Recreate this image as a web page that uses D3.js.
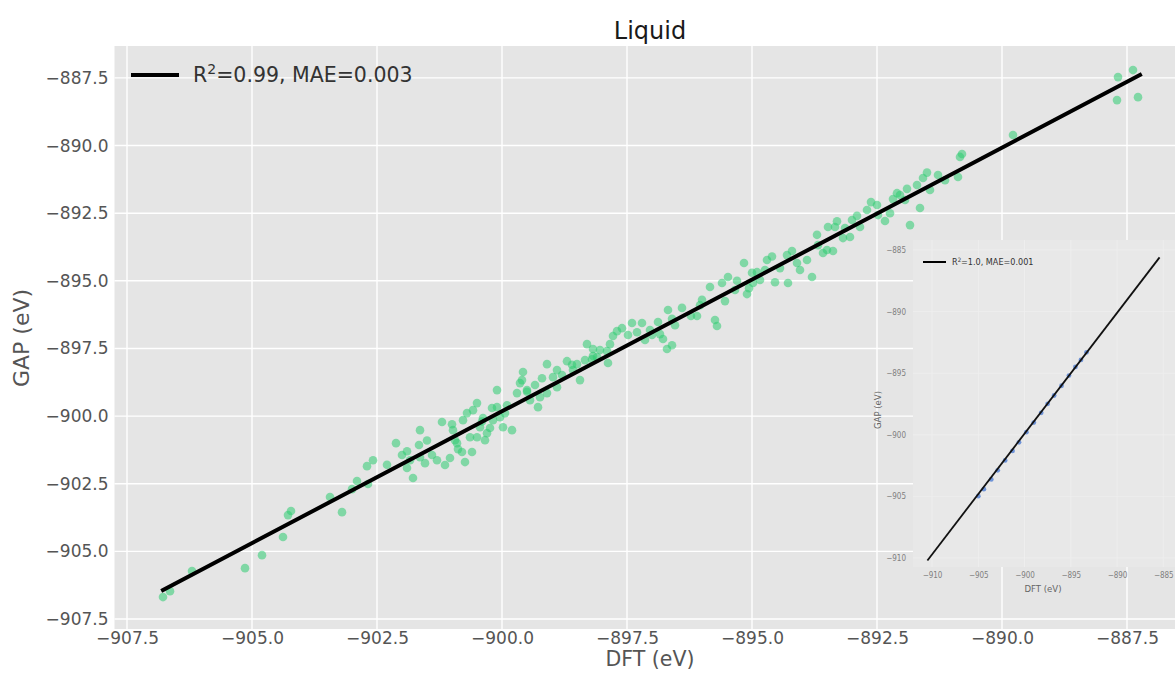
<!DOCTYPE html>
<html>
<head>
<meta charset="utf-8">
<script src="https://cdn.jsdelivr.net/npm/d3@7"></script>
<style>
  html, body { margin: 0; padding: 0; background: #ffffff; }
  svg { display: block; }
</style>
</head>
<body>
<svg id="chart" width="1175" height="675"></svg>
<script>
// ---------------- data ----------------
const title = "Liquid";
const xLabel = "DFT (eV)";
const yLabel = "GAP (eV)";
const xTicks = [-907.5, -905.0, -902.5, -900.0, -897.5, -895.0, -892.5, -890.0, -887.5];
const yTicks = [-907.5, -905.0, -902.5, -900.0, -897.5, -895.0, -892.5, -890.0, -887.5];

// DFT energies (x) and GAP energies (y) of the liquid configurations
const dft = [
  -906.78,-906.64,-906.20,-905.14,-904.80,-904.38,-904.28,-904.22,-903.44,-903.20,
  -902.90,-902.70,-902.58,-902.68,-902.12,-901.90,-901.78,-901.64,-901.66,-901.64,
  -901.30,-901.20,-901.04,-900.98,-900.94,-900.88,-900.80,-900.78,-900.70,-900.50,
  -900.58,-900.64,-900.50,-900.44,-900.38,-900.30,-900.18,-900.04,-899.98,-899.80,
  -900.10,-900.10,-899.70,-899.64,-899.58,-899.60,-899.50,-899.28,-899.24,-899.10,
  -899.10,-898.98,-898.90,-898.70,-898.58,-898.44,-898.50,-898.30,-898.18,-898.10,
  -898.18,-897.84,-897.78,-897.88,-897.70,-897.60,-897.40,-897.20,-897.14,-896.88,
  -896.84,-896.78,-896.70,-896.60,-896.68,-896.22,-896.10,-895.74,-895.70,-895.84,
  -895.60,-895.48,-895.54,-895.16,-895.10,-895.06,-894.98,-894.90,-894.84,-894.70,
  -894.44,-894.28,-894.30,-894.10,-893.90,-893.80,-893.58,-893.48,-893.34,-893.18,
  -893.04,-893.50,-893.38,-893.00,-892.84,-892.70,-892.62,-892.34,-892.18,-892.10,
  -892.04,-891.84,-891.64,-891.70,-891.58,-891.28,-890.88,-890.84,-890.80,-889.78,
  -887.68,-887.38,-887.70,-887.28,-902.00,-901.84,-901.54,-901.40,-901.14,-900.74,
  -900.60,-900.34,-900.24,-899.94,-899.44,-899.34,-898.80,-898.34,-898.04,-897.48,
  -897.04,-896.54,-896.04,-895.34,-894.74,-894.54,-894.04,-893.68,-893.14,-892.48,
  -891.94,-891.44,-891.14,-892.24,
  -901.50,-901.00,-900.90,-900.40,-900.20,-899.90,-899.50,-899.20,-898.90,-898.60,
  -898.20,-897.90,-897.30,-897.00,-896.60,-896.40,-896.00,-895.30,-895.00,-894.60,
  -894.20,-893.70,-893.30,-892.90,-892.50,-891.90,-891.50,-903.00,-902.30,-901.90
];
const gap = [
  -906.69,-906.47,-905.73,-905.62,-905.14,-904.47,-903.66,-903.51,-902.99,-903.55,
  -902.40,-901.85,-901.63,-902.51,-901.00,-901.92,-902.29,-900.52,-901.07,-901.52,
  -901.63,-900.22,-901.55,-900.52,-900.89,-901.22,-901.33,-900.15,-899.89,-899.52,
  -899.78,-900.78,-900.78,-900.41,-900.07,-900.63,-900.15,-900.04,-900.41,-900.52,
  -899.04,-899.67,-899.15,-898.78,-898.37,-898.67,-899.04,-899.67,-899.30,-899.15,
  -898.08,-898.56,-898.93,-897.97,-898.30,-898.67,-898.08,-897.34,-897.52,-897.82,
  -897.78,-897.34,-897.04,-898.04,-896.86,-896.75,-896.56,-896.56,-897.19,-896.52,
  -896.97,-897.15,-897.52,-897.38,-896.08,-896.30,-896.30,-896.45,-896.67,-895.23,
  -895.08,-894.86,-895.75,-894.34,-895.49,-895.27,-895.08,-894.68,-894.97,-894.23,
  -894.53,-895.08,-894.05,-894.34,-894.23,-894.86,-893.97,-893.01,-893.01,-893.42,
  -893.38,-893.86,-893.90,-892.75,-893.01,-892.38,-892.09,-892.79,-891.98,-891.76,
  -891.83,-892.94,-892.31,-891.46,-891.20,-891.09,-891.16,-890.42,-890.31,-889.61,
  -887.47,-887.21,-888.32,-888.21,-901.44,-901.63,-901.74,-901.44,-901.81,-901.70,
  -901.33,-900.89,-900.44,-899.89,-899.41,-898.85,-898.48,-897.93,-897.56,-897.00,
  -896.82,-896.64,-895.90,-895.34,-894.60,-895.05,-894.60,-893.68,-893.05,-892.57,
  -892.01,-891.64,-891.28,-892.50,
  -900.90,-900.30,-901.00,-900.20,-899.70,-899.60,-899.10,-898.60,-898.30,-898.10,
  -897.90,-897.60,-896.90,-897.00,-896.40,-896.00,-895.70,-895.00,-894.70,-894.10,
  -893.90,-893.30,-892.80,-892.60,-892.20,-891.60,-891.00,-902.70,-901.80,-901.30
];
// fitted line endpoints
const fitX = [-906.78, -887.24];
const fitY = [-906.43, -887.39];
const legendText = ["R", "2", "=0.99, MAE=0.003"];

// inset (training fit)
const insetXTicks = [-910, -905, -900, -895, -890, -885];
const insetYTicks = [-910, -905, -900, -895, -890, -885];
const insetDft = [-905.0, -904.4, -903.6, -902.9, -902.1, -901.3, -900.6, -899.8, -899.0, -898.2, -897.5, -896.8, -896.0, -895.2, -894.5, -893.9, -893.3];
const insetGap = [-904.98, -904.41, -903.62, -902.88, -902.08, -901.31, -900.61, -899.79, -899.01, -898.22, -897.49, -896.81, -896.02, -895.19, -894.49, -893.92, -893.31];
const insetFitX = [-910.5, -885.4];
const insetFitY = [-910.2, -885.6];
const insetLegendText = ["R", "2", "=1.0, MAE=0.001"];

// ---------------- drawing ----------------
const svg = d3.select("#chart");
const FONT = "DejaVu Sans, Verdana, sans-serif";
const BG = "#e5e5e5";

const x = d3.scaleLinear().domain([-907.75, -886.3]).range([114.5, 1187]);
const y = d3.scaleLinear().domain([-907.87, -886.32]).range([629, 46]);

svg.append("rect")
  .attr("x", x.range()[0]).attr("y", y.range()[1])
  .attr("width", x.range()[1] - x.range()[0])
  .attr("height", y.range()[0] - y.range()[1])
  .attr("fill", BG);

// grid
const grid = svg.append("g");
grid.selectAll(".vx").data(xTicks).join("line")
  .attr("x1", d => x(d)).attr("x2", d => x(d))
  .attr("y1", y.range()[1]).attr("y2", y.range()[0])
  .attr("stroke", "#ffffff").attr("stroke-width", 1.4);
grid.selectAll(".hy").data(yTicks).join("line")
  .attr("y1", d => y(d)).attr("y2", d => y(d))
  .attr("x1", x.range()[0]).attr("x2", x.range()[1])
  .attr("stroke", "#ffffff").attr("stroke-width", 1.4);

// axes
const fmt = d => d3.format(".1f")(d).replace("-", "\u2212");
const xAxis = svg.append("g").attr("transform", `translate(0,${y.range()[0]})`)
  .call(d3.axisBottom(x).tickValues(xTicks).tickFormat(fmt).tickSize(0).tickPadding(3));
const yAxis = svg.append("g").attr("transform", `translate(${x.range()[0]},0)`)
  .call(d3.axisLeft(y).tickValues(yTicks).tickFormat(fmt).tickSize(0).tickPadding(6));
[xAxis, yAxis].forEach(a => {
  a.select(".domain").remove();
  a.selectAll("text").attr("font-family", FONT).attr("font-size", 17).attr("fill", "#555555");
});

// points
svg.append("g").selectAll("circle").data(dft.map((d, i) => [d, gap[i]])).join("circle")
  .attr("cx", d => x(d[0])).attr("cy", d => y(d[1])).attr("r", 4.3)
  .attr("fill", "#2ecc71").attr("fill-opacity", 0.55);

// fit line
svg.append("line")
  .attr("x1", x(fitX[0])).attr("y1", y(fitY[0]))
  .attr("x2", x(fitX[1])).attr("y2", y(fitY[1]))
  .attr("stroke", "#000000").attr("stroke-width", 4).attr("stroke-linecap", "square");

// title and labels
svg.append("text").attr("x", 650).attr("y", 39).attr("text-anchor", "middle")
  .attr("font-family", FONT).attr("font-size", 24).attr("fill", "#1a1a1a").text(title);
svg.append("text").attr("x", 650).attr("y", 666).attr("text-anchor", "middle")
  .attr("font-family", FONT).attr("font-size", 20.5).attr("fill", "#555555").text(xLabel);
svg.append("text").attr("transform", "translate(29,338) rotate(-90)").attr("text-anchor", "middle")
  .attr("font-family", FONT).attr("font-size", 22).attr("fill", "#555555").text(yLabel);

// legend
svg.append("line").attr("x1", 131).attr("x2", 179).attr("y1", 75).attr("y2", 75)
  .attr("stroke", "#000").attr("stroke-width", 4);
const lt = svg.append("text").attr("x", 193).attr("y", 82)
  .attr("font-family", FONT).attr("font-size", 20.5).attr("fill", "#333333");
lt.append("tspan").text(legendText[0]);
lt.append("tspan").attr("font-size", 14).attr("dy", -8).text(legendText[1]);
lt.append("tspan").attr("dy", 8).text(legendText[2]);

// ---------------- inset ----------------
const ix = d3.scaleLinear().domain([-912.06, -883.3]).range([913, 1179]);
const iy = d3.scaleLinear().domain([-910.73, -884.19]).range([567, 240]);
const IFONT = "Liberation Sans Narrow, DejaVu Sans Condensed, Liberation Sans, sans-serif";

svg.append("rect").attr("x", ix.range()[0]).attr("y", iy.range()[1])
  .attr("width", ix.range()[1] - ix.range()[0]).attr("height", iy.range()[0] - iy.range()[1])
  .attr("fill", "#e8e8e8");
const ig = svg.append("g");
ig.selectAll(".v").data(insetXTicks).join("line")
  .attr("x1", d => ix(d)).attr("x2", d => ix(d)).attr("y1", iy.range()[1]).attr("y2", iy.range()[0])
  .attr("stroke", "#efefef").attr("stroke-width", 0.8);
ig.selectAll(".h").data(insetYTicks).join("line")
  .attr("y1", d => iy(d)).attr("y2", d => iy(d)).attr("x1", ix.range()[0]).attr("x2", ix.range()[1])
  .attr("stroke", "#efefef").attr("stroke-width", 0.8);

const ifmt = d => String(d).replace("-", "\u2212");
const ixAxis = svg.append("g").attr("transform", `translate(0,${iy.range()[0]})`)
  .call(d3.axisBottom(ix).tickValues(insetXTicks).tickFormat(ifmt).tickSize(0).tickPadding(5));
const iyAxis = svg.append("g").attr("transform", `translate(${ix.range()[0]},0)`)
  .call(d3.axisLeft(iy).tickValues(insetYTicks).tickFormat(ifmt).tickSize(0).tickPadding(7));
[ixAxis, iyAxis].forEach(a => {
  a.select(".domain").remove();
  a.selectAll("text").attr("font-family", IFONT).attr("font-size", 8).attr("fill", "#808080");
});
svg.append("text").attr("x", 1043).attr("y", 592).attr("text-anchor", "middle")
  .attr("font-family", IFONT).attr("font-size", 9.5).attr("fill", "#666666").text(xLabel);
svg.append("text").attr("transform", "translate(881,410) rotate(-90)").attr("text-anchor", "middle")
  .attr("font-family", IFONT).attr("font-size", 9.5).attr("fill", "#666666").text(yLabel);

svg.append("g").selectAll("circle").data(insetDft.map((d, i) => [d, insetGap[i]])).join("circle")
  .attr("cx", d => ix(d[0])).attr("cy", d => iy(d[1])).attr("r", 2.4)
  .attr("fill", "#3a6fd0").attr("fill-opacity", 0.7);
svg.append("line")
  .attr("x1", ix(insetFitX[0])).attr("y1", iy(insetFitY[0]))
  .attr("x2", ix(insetFitX[1])).attr("y2", iy(insetFitY[1]))
  .attr("stroke", "#111111").attr("stroke-width", 1.8);

svg.append("line").attr("x1", 923).attr("x2", 946).attr("y1", 262).attr("y2", 262)
  .attr("stroke", "#000").attr("stroke-width", 2);
const ilt = svg.append("text").attr("x", 952).attr("y", 265)
  .attr("font-family", IFONT).attr("font-size", 9).attr("fill", "#333333");
ilt.append("tspan").text(insetLegendText[0]);
ilt.append("tspan").attr("font-size", 6).attr("dy", -3).text(insetLegendText[1]);
ilt.append("tspan").attr("dy", 3).text(insetLegendText[2]);
</script>
</body>
</html>
